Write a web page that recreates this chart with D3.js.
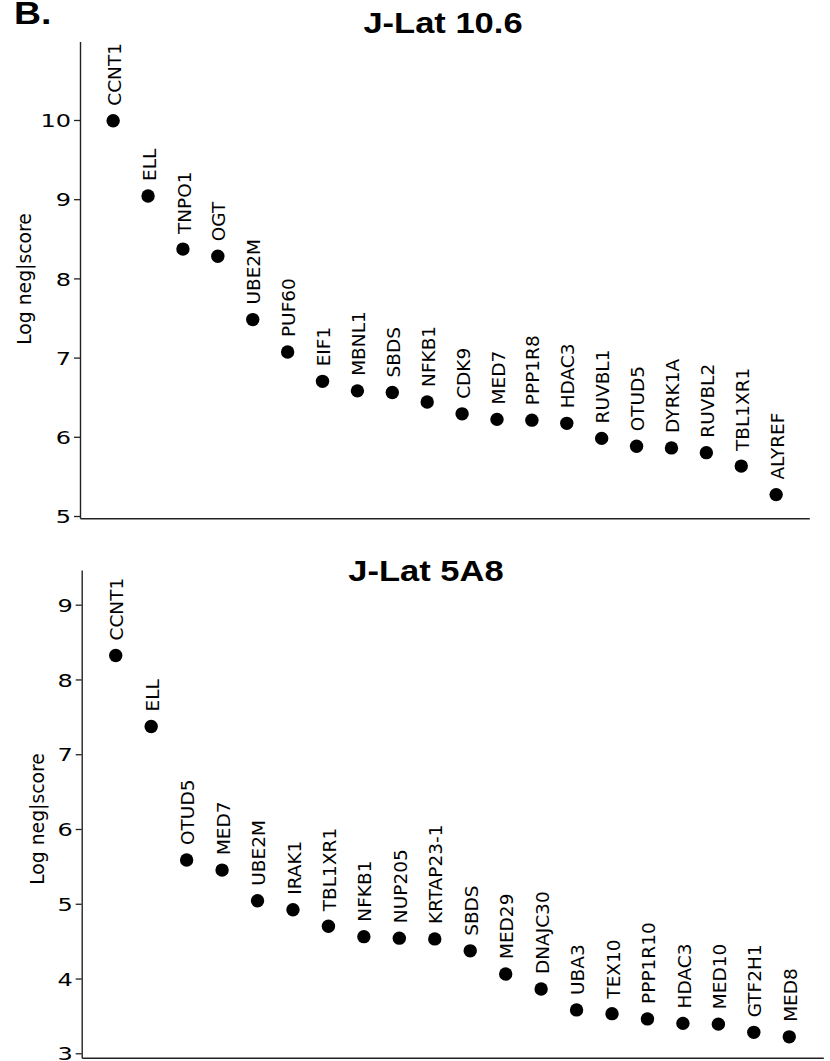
<!DOCTYPE html>
<html>
<head>
<meta charset="utf-8">
<script src="https://cdn.jsdelivr.net/npm/d3@7"></script>
<style>
  body { margin: 0; background: #fff; }
  svg { display: block; }
</style>
</head>
<body>
<div id="chart"></div>
<script>
// J-Lat 10.6 screen hits
var lat106Genes = ["CCNT1","ELL","TNPO1","OGT","UBE2M","PUF60","EIF1","MBNL1","SBDS","NFKB1",
                   "CDK9","MED7","PPP1R8","HDAC3","RUVBL1","OTUD5","DYRK1A","RUVBL2","TBL1XR1","ALYREF"];
var lat106Scores = [9.99, 9.04, 8.37, 8.28, 7.48, 7.07, 6.70, 6.58, 6.56, 6.44,
                    6.29, 6.22, 6.21, 6.17, 5.98, 5.88, 5.86, 5.80, 5.63, 5.27];
var lat106Ticks = [5, 6, 7, 8, 9, 10];

// J-Lat 5A8 screen hits
var lat5a8Genes = ["CCNT1","ELL","OTUD5","MED7","UBE2M","IRAK1","TBL1XR1","NFKB1","NUP205","KRTAP23-1",
                   "SBDS","MED29","DNAJC30","UBA3","TEX10","PPP1R10","HDAC3","MED10","GTF2H1","MED8"];
var lat5a8Scores = [8.32, 7.37, 5.585, 5.45, 5.04, 4.92, 4.70, 4.56, 4.54, 4.53,
                    4.37, 4.06, 3.86, 3.58, 3.53, 3.46, 3.40, 3.39, 3.28, 3.22];
var lat5a8Ticks = [3, 4, 5, 6, 7, 8, 9];

var W = 830, H = 1061;
var svg = d3.select('#chart').append('svg')
    .attr('width', W)
    .attr('height', H);

// panel letter
svg.append('text')
    .attr('transform', 'translate(14,23.5) scale(1.17,1)')
    .style('font-family', '"Liberation Sans", Arial, sans-serif')
    .style('font-weight', 'bold')
    .style('font-size', '32px')
    .text('B.');

function drawPanel(genes, scores, ticks, opt){
    var x = d3.scalePoint()
        .domain(genes)
        .range([opt.left, opt.right])
        .padding(opt.pad);

    var y = d3.scaleLinear()
        .domain(opt.yDomain)
        .range([opt.bottom, opt.top]);

    var g = svg.append('g');

    // y axis
    var ya = g.append('g')
        .attr('transform', 'translate(' + opt.left + ',0)')
        .call(d3.axisLeft(y).tickValues(ticks).tickSize(6).tickSizeOuter(0).tickFormat(d3.format('d')));
    ya.select('.domain').attr('stroke', '#222').attr('stroke-width', 1.4);
    ya.selectAll('.tick line').attr('stroke', '#222').attr('stroke-width', 1.3);
    ya.selectAll('.tick text')
        .attr('x', -9 / 1.3)
        .attr('dy', '0.36em')
        .attr('transform', 'scale(1.3,1)')
        .attr('fill', '#000')
        .style('font-family', '"DejaVu Sans", sans-serif')
        .style('font-size', '18.5px');

    // x axis (spine only)
    var xa = g.append('g')
        .attr('transform', 'translate(0,' + opt.bottom + ')')
        .call(d3.axisBottom(x).tickValues([]).tickSizeOuter(0));
    xa.select('.domain').attr('stroke', '#222').attr('stroke-width', 1.4);

    // y label
    g.append('text')
        .attr('transform', 'translate(' + opt.labelX + ',' + opt.labelY + ') rotate(-90)')
        .attr('text-anchor', 'middle')
        .style('font-family', '"DejaVu Sans", sans-serif')
        .style('font-size', '18.8px')
        .text('Log neg|score');

    // title
    g.append('text')
        .attr('transform', 'translate(' + opt.titleX + ',' + opt.titleY + ') scale(1.17,1)')
        .attr('text-anchor', 'middle')
        .style('font-family', '"Liberation Sans", Arial, sans-serif')
        .style('font-weight', 'bold')
        .style('font-size', '29.5px')
        .text(opt.title);

    var pts = genes.map(function(d, i){ return {gene: d, score: scores[i]}; });

    g.selectAll('.dot')
        .data(pts)
        .enter()
        .append('circle')
        .attr('class', 'dot')
        .attr('cx', function(d){ return x(d.gene); })
        .attr('cy', function(d){ return y(d.score); })
        .attr('r', 6.7)
        .attr('fill', '#000');

    g.selectAll('.gene')
        .data(pts)
        .enter()
        .append('text')
        .attr('class', 'gene')
        .attr('transform', function(d){
            return 'translate(' + (x(d.gene) + 7.6) + ',' + (y(d.score) - 15) + ') rotate(-90)';
        })
        .style('font-family', '"DejaVu Sans", sans-serif')
        .style('font-size', '18.5px')
        .text(function(d){ return d.gene; });
}

drawPanel(lat106Genes, lat106Scores, lat106Ticks, {
    left: 80, right: 809.3, pad: 0.95,
    top: 41.5, bottom: 518.3, yDomain: [4.971, 10.991],
    labelX: 31, labelY: 279,
    titleX: 443, titleY: 33.3, title: 'J-Lat 10.6'
});

drawPanel(lat5a8Genes, lat5a8Scores, lat5a8Ticks, {
    left: 81.7, right: 823.3, pad: 0.96,
    top: 570, bottom: 1057.7, yDomain: [2.941, 9.464],
    labelX: 44, labelY: 819,
    titleX: 426, titleY: 580.5, title: 'J-Lat 5A8'
});
</script>
</body>
</html>
